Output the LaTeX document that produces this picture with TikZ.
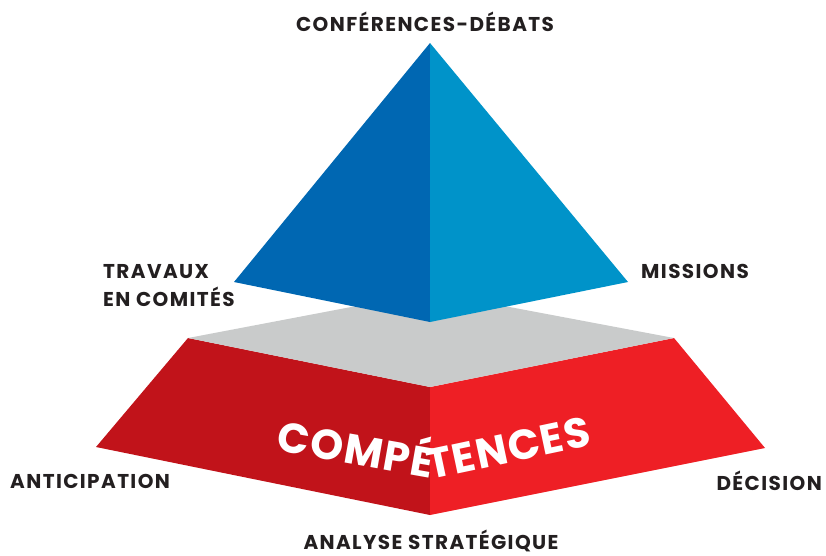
\documentclass[tikz,border=0pt]{standalone}
\usepackage{fontspec}
\setmainfont{Poppins}
\usetikzlibrary{positioning}
\definecolor{blueleft}{HTML}{0067B2}
\definecolor{blueright}{HTML}{0093C9}
\definecolor{topgrey}{HTML}{C9CBCB}
\definecolor{redleft}{HTML}{C1131A}
\definecolor{redright}{HTML}{EE1F25}
\definecolor{ink}{HTML}{231F20}
\tikzset{
	face/.style={
		fill=#1
		,draw=none
	}
	,caption/.style={
		text=ink
		,inner sep=0pt
		,font=\bfseries\fontsize{20}{28}\selectfont\addfontfeature{LetterSpace=7}
	}
	,bigword/.style={
		text=white
		,inner sep=0pt
		,font=\bfseries\fontsize{42}{42}\selectfont\addfontfeature{LetterSpace=3}
	}
}
\begin{document}
\begin{tikzpicture}[x=1pt, y=-1pt]
\useasboundingbox (0,0) rectangle (826,555);
% base block
\coordinate (bl) at (188,338);
\coordinate (br) at (674,338);
\coordinate (bf) at (430,387);
\coordinate (bb) at (430,292);
\coordinate (ll) at (96,447);
\coordinate (lr) at (765,448);
\coordinate (lf) at (430,515);
\fill[face=redleft] (bl) -- (bf) -- (lf) -- (ll) -- cycle;
\fill[face=redright] (bf) -- (br) -- (lr) -- (lf) -- cycle;
\fill[face=topgrey] (bl) -- (bb) -- (br) -- (bf) -- cycle;
% pyramid
\coordinate (apex) at (430,43);
\coordinate (pl) at (234,282);
\coordinate (pr) at (628,282);
\coordinate (pf) at (430,322);
\fill[face=blueleft] (apex) -- (pl) -- (pf) -- cycle;
\fill[face=blueright] (apex) -- (pf) -- (pr) -- cycle;
% word on the edge
\node[bigword, rotate=-10, anchor=base east] (compa) at (431,478) {COMPÉ};
\node[bigword, rotate=12, anchor=base west] (compb) at (430,480) {TENCES};
% labels
\node[caption] (debats) at (425,22) {CONFÉRENCES-DÉBATS};
\node[caption, anchor=west, align=left] (travaux) at (103,286) {TRAVAUX\\EN COMITÉS};
\node[caption, anchor=west] (missions) at (641,271) {MISSIONS};
\node[caption, anchor=west] (anticip) at (10,481) {ANTICIPATION};
\node[caption, anchor=east] (decision) at (822,481) {DÉCISION};
\node[caption, anchor=base] (analyse) at (431,549) {ANALYSE STRATÉGIQUE};
\end{tikzpicture}
\end{document}
